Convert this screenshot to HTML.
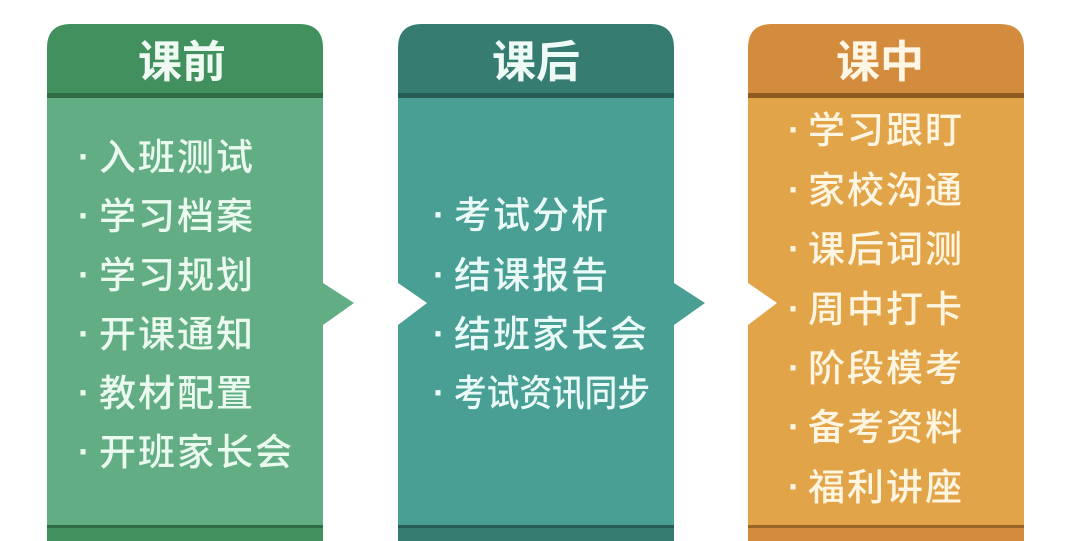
<!DOCTYPE html>
<html><head><meta charset="utf-8"><style>
html,body{margin:0;padding:0;background:#fff;}
svg{display:block}
text{font-family:"Liberation Sans","Noto Sans CJK SC",sans-serif;}
.i{font-size:37px;letter-spacing:2px;font-weight:500}
.b{font-size:36px;font-weight:bold}
</style></head><body>
<svg width="1071" height="541" viewBox="0 0 1071 541">
<!-- Green column -->
<path d="M47,95 L323,95 L323,283 L354,303 L323,325 L323,541 L47,541 Z" fill="#62ad83"/>
<path d="M47,95 L47,48 Q47,24 71,24 L299,24 Q323,24 323,48 L323,95 Z" fill="#43905f"/>
<rect x="47" y="93" width="276" height="5" fill="#2f6b45"/>
<rect x="47" y="527" width="276" height="14" fill="#43905f"/>
<rect x="47" y="525" width="276" height="3" fill="#2f6b45"/>
<text x="182" y="77" text-anchor="middle" font-size="44" font-weight="bold" fill="#eefaf2">课前</text>
<g fill="#eafaef">
<g class="b"><text x="78" y="169">·</text><text x="78" y="228">·</text><text x="78" y="287">·</text><text x="78" y="346">·</text><text x="78" y="405">·</text><text x="78" y="464">·</text></g>
<g class="i">
<text x="99" y="170">入班测试</text>
<text x="99" y="229">学习档案</text>
<text x="99" y="288">学习规划</text>
<text x="99" y="347">开课通知</text>
<text x="99" y="406">教材配置</text>
<text x="99" y="465">开班家长会</text>
</g></g>
<!-- Teal column -->
<path d="M398,95 L674,95 L674,283 L705,303 L674,325 L674,541 L398,541 L398,325 L427,303 L398,283 Z" fill="#4a9f95"/>
<path d="M398,95 L398,48 Q398,24 422,24 L650,24 Q674,24 674,48 L674,95 Z" fill="#367c71"/>
<rect x="398" y="93" width="276" height="5" fill="#275c54"/>
<rect x="398" y="527" width="276" height="14" fill="#367c71"/>
<rect x="398" y="525" width="276" height="3" fill="#275c54"/>
<text x="536" y="77" text-anchor="middle" font-size="44" font-weight="bold" fill="#eefaf6">课后</text>
<g fill="#eafaf6">
<g class="b"><text x="433" y="227">·</text><text x="433" y="287">·</text><text x="433" y="346">·</text><text x="433" y="405">·</text></g>
<g class="i">
<text x="454" y="228">考试分析</text>
<text x="454" y="288">结课报告</text>
<text x="454" y="347">结班家长会</text>
<text x="454" y="406" textLength="196" lengthAdjust="spacingAndGlyphs" style="letter-spacing:0">考试资讯同步</text>
</g></g>
<!-- Orange column -->
<path d="M748,95 L1024,95 L1024,541 L748,541 L748,325 L777,303 L748,283 Z" fill="#e2a449"/>
<path d="M748,95 L748,48 Q748,24 772,24 L1000,24 Q1024,24 1024,48 L1024,95 Z" fill="#d38c3d"/>
<rect x="748" y="93" width="276" height="5" fill="#8e5a22"/>
<rect x="748" y="527" width="276" height="14" fill="#d38c3d"/>
<rect x="748" y="525" width="276" height="3" fill="#9a6428"/>
<text x="880" y="77" text-anchor="middle" font-size="44" font-weight="bold" fill="#fff6e6">课中</text>
<g fill="#fff5e0">
<g class="b"><text x="788" y="142">·</text><text x="788" y="202">·</text><text x="788" y="261">·</text><text x="788" y="321">·</text><text x="788" y="380">·</text><text x="788" y="439">·</text><text x="788" y="499">·</text></g>
<g class="i">
<text x="808" y="143">学习跟盯</text>
<text x="808" y="203">家校沟通</text>
<text x="808" y="262">课后词测</text>
<text x="808" y="322">周中打卡</text>
<text x="808" y="381">阶段模考</text>
<text x="808" y="440">备考资料</text>
<text x="808" y="500">福利讲座</text>
</g></g>
</svg>
</body></html>
